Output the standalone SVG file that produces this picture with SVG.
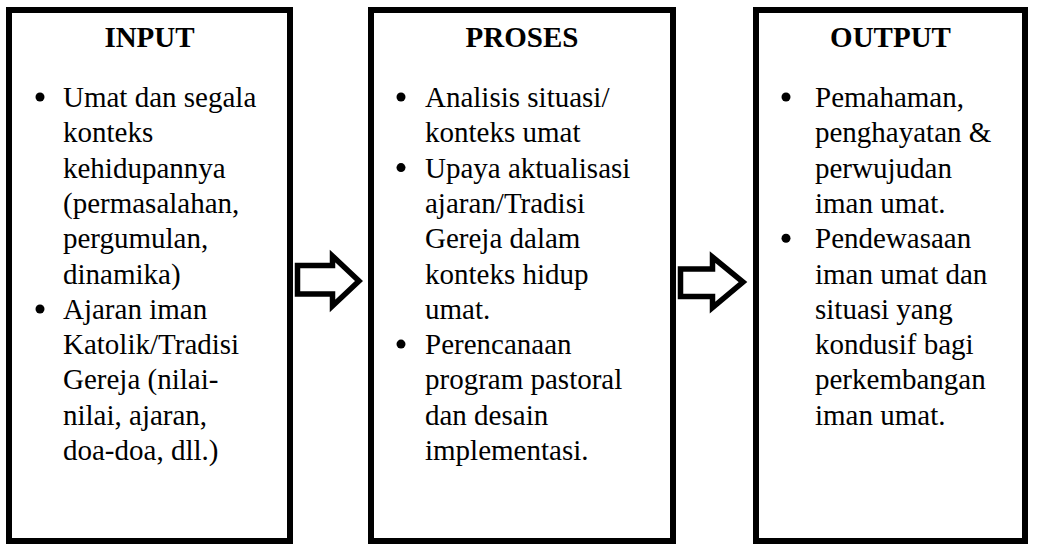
<svg xmlns="http://www.w3.org/2000/svg" width="1037" height="547" viewBox="0 0 1037 547">
<style>
.box{fill:#fff;stroke:#000;stroke-width:6}
.title{font-size:29px;font-weight:bold;fill:#000;text-anchor:middle}
.txt{font-size:29px;fill:#000}
.dot{fill:#000}
.arrow{fill:#fff;stroke:#000;stroke-width:5.5;stroke-linejoin:miter}
</style>
<rect width="1037" height="547" fill="#fff"/>
<g id="input">
<rect class="box" x="9" y="10" width="281" height="531"/>
<text class="title" font-family="'Liberation Serif', 'Times New Roman', serif" x="149.5" y="47">INPUT</text>
<circle class="dot" cx="40" cy="97" r="4.5"/>
<circle class="dot" cx="40" cy="309" r="4.5"/>
<text class="txt" font-family="'Liberation Serif', 'Times New Roman', serif">
<tspan x="63" y="107">Umat dan segala</tspan>
<tspan x="63" y="142.3">konteks</tspan>
<tspan x="63" y="177.6">kehidupannya</tspan>
<tspan x="63" y="212.9">(permasalahan,</tspan>
<tspan x="63" y="248.2">pergumulan,</tspan>
<tspan x="63" y="283.5">dinamika)</tspan>
<tspan x="63" y="318.8">Ajaran iman</tspan>
<tspan x="63" y="354.1">Katolik/Tradisi</tspan>
<tspan x="63" y="389.4">Gereja (nilai-</tspan>
<tspan x="63" y="424.7">nilai, ajaran,</tspan>
<tspan x="63" y="460">doa-doa, dll.)</tspan>
</text>
</g>
<g id="proses">
<rect class="box" x="371" y="10" width="302" height="531"/>
<text class="title" font-family="'Liberation Serif', 'Times New Roman', serif" x="522" y="47">PROSES</text>
<circle class="dot" cx="401" cy="97" r="4.5"/>
<circle class="dot" cx="401" cy="167.6" r="4.5"/>
<circle class="dot" cx="401" cy="344.1" r="4.5"/>
<text class="txt" font-family="'Liberation Serif', 'Times New Roman', serif">
<tspan x="425" y="107">Analisis situasi/</tspan>
<tspan x="425" y="142.3">konteks umat</tspan>
<tspan x="425" y="177.6">Upaya aktualisasi</tspan>
<tspan x="425" y="212.9">ajaran/Tradisi</tspan>
<tspan x="425" y="248.2">Gereja dalam</tspan>
<tspan x="425" y="283.5">konteks hidup</tspan>
<tspan x="425" y="318.8">umat.</tspan>
<tspan x="425" y="354.1">Perencanaan</tspan>
<tspan x="425" y="389.4">program pastoral</tspan>
<tspan x="425" y="424.7">dan desain</tspan>
<tspan x="425" y="460">implementasi.</tspan>
</text>
</g>
<g id="output">
<rect class="box" x="756" y="10" width="269" height="531"/>
<text class="title" font-family="'Liberation Serif', 'Times New Roman', serif" x="890.5" y="47">OUTPUT</text>
<circle class="dot" cx="786" cy="97" r="4.5"/>
<circle class="dot" cx="786" cy="238.2" r="4.5"/>
<text class="txt" font-family="'Liberation Serif', 'Times New Roman', serif">
<tspan x="815" y="107">Pemahaman,</tspan>
<tspan x="815" y="142.3">penghayatan &amp;</tspan>
<tspan x="815" y="177.6">perwujudan</tspan>
<tspan x="815" y="212.9">iman umat.</tspan>
<tspan x="815" y="248.2">Pendewasaan</tspan>
<tspan x="815" y="283.5">iman umat dan</tspan>
<tspan x="815" y="318.8">situasi yang</tspan>
<tspan x="815" y="354.1">kondusif bagi</tspan>
<tspan x="815" y="389.4">perkembangan</tspan>
<tspan x="815" y="424.7">iman umat.</tspan>
</text>
</g>
<g id="connectors">
<polygon class="arrow" points="297.5,265.5 332.5,265.5 332.5,256 359,281 332.5,306 332.5,294 297.5,294"/>
<polygon class="arrow" points="680.5,269 712.5,269 712.5,257 743,282 712.5,307.5 712.5,296.5 680.5,296.5"/>
</g>
</svg>
